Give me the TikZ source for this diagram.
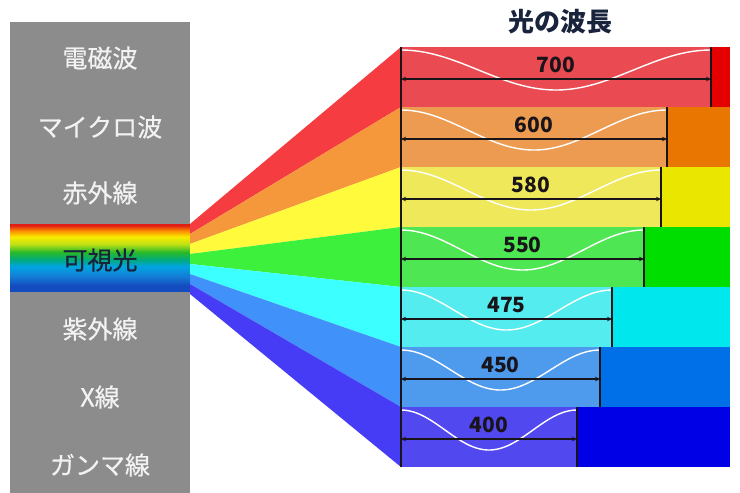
\documentclass[tikz,border=0pt]{standalone}
\usepackage{fontspec}
\setmainfont{Noto Sans CJK JP}
\newfontfamily\jpmid{Noto Sans CJK JP}[FakeBold=0.6]
\usetikzlibrary{arrows.meta}
\definecolor{colgray}{RGB}{140,140,140}
\definecolor{lbltext}{RGB}{242,242,242}
\definecolor{darkink}{RGB}{25,20,25}
\definecolor{navyink}{RGB}{25,35,60}
% fan colours
\definecolor{Fr}{RGB}{245,60,65}
\definecolor{Fo}{RGB}{245,152,60}
\definecolor{Fy}{RGB}{255,250,60}
\definecolor{Fg}{RGB}{60,240,60}
\definecolor{Fc}{RGB}{60,255,255}
\definecolor{Fb}{RGB}{65,145,250}
\definecolor{Fv}{RGB}{70,60,245}
% bar light parts
\definecolor{Lr}{RGB}{234,75,82}
\definecolor{Lo}{RGB}{236,155,80}
\definecolor{Ly}{RGB}{238,232,90}
\definecolor{Lg}{RGB}{78,230,82}
\definecolor{Lc}{RGB}{85,236,240}
\definecolor{Lb}{RGB}{78,155,238}
\definecolor{Lv}{RGB}{82,72,240}
% bar dark parts
\definecolor{Dr}{RGB}{228,0,0}
\definecolor{Do}{RGB}{232,118,0}
\definecolor{Dy}{RGB}{234,230,0}
\definecolor{Dg}{RGB}{0,222,0}
\definecolor{Dc}{RGB}{0,232,238}
\definecolor{Db}{RGB}{0,112,232}
\definecolor{Dv}{RGB}{0,0,230}
% rainbow band stops
\definecolor{rb0}{RGB}{225,30,20}
\definecolor{rb1}{RGB}{250,140,0}
\definecolor{rb2}{RGB}{250,235,0}
\definecolor{rb3}{RGB}{190,225,20}
\definecolor{rb4}{RGB}{40,185,40}
\definecolor{rb5}{RGB}{0,170,130}
\definecolor{rb6}{RGB}{0,165,225}
\definecolor{rb7}{RGB}{20,125,215}
\definecolor{rb8}{RGB}{20,75,190}
\pgfdeclareverticalshading{rainbowband}{100bp}{%
  color(0bp)=(rb8); color(25bp)=(rb8); color(29bp)=(rb8); color(36bp)=(rb7);
  color(43.5bp)=(rb6); color(48bp)=(rb5); color(54bp)=(rb4); color(60bp)=(rb3);
  color(65.5bp)=(rb2); color(70bp)=(rb1); color(74bp)=(rb0); color(100bp)=(rb0)}
\tikzset{
  sidelabel/.style={text=lbltext, inner sep=0pt, font=\jpmid\fontsize{25}{28}\selectfont},
  visiblelabel/.style={text=navyink, inner sep=0pt, font=\jpmid\fontsize{25}{28}\selectfont},
  titlelabel/.style={text=navyink, inner sep=0pt, font=\bfseries\fontsize{26}{30}\selectfont},
  numlabel/.style={text=darkink, inner sep=0pt, font=\bfseries\fontsize{21}{24}\selectfont},
  waveline/.style={white, line width=1.4pt},
  dimline/.style={darkink, line width=1.3pt, {Stealth[length=5pt,width=4.5pt]}-{Stealth[length=5pt,width=4.5pt]}},
  edgeline/.style={darkink, line width=1.2pt}
}
\begin{document}
\begin{tikzpicture}[x=1pt,y=-1pt]
\fill[white] (0,0) rectangle (740,493);
\useasboundingbox (0,0) rectangle (740,493);
% grey column
\fill[colgray] (10,22) rectangle (190,493);
% visible-light band
\shade[shading=rainbowband] (10,224) rectangle (190,291);
% fan, bars, waves, arrows
\foreach \i/\E/\num/\c in {0/711/700/r,1/667/600/o,2/661/580/y,3/644/550/g,4/612/475/c,5/600/450/b,6/577/400/v}{
  \pgfmathsetmacro\T{47+60*\i}
  \fill[F\c] (190,{224+10*\i}) -- (401,\T) -- (401,{\T+60}) -- (190,{234+10*\i}) -- cycle;
  \fill[L\c] (401,\T) rectangle (\E,{\T+60});
  \fill[D\c] (\E,\T) rectangle (730,{\T+60});
  \draw[waveline] plot[domain=0:1,samples=60,smooth] ({401+\x*(\E-401)},{\T+23-20*cos(360*\x)});
  \draw[edgeline] (\E,\T) -- (\E,{\T+60});
  \coordinate (a\i) at (401,{\T+32});
  \coordinate (b\i) at (\E,{\T+32});
  \draw[dimline] (a\i) -- (b\i);
  \node[numlabel] (n\i) at ({(401+\E)/2},{\T+18}) {\num};
}
\draw[edgeline] (401,47) -- (401,467);
% labels
\node[sidelabel] (em) at (100,58) {電磁波};
\node[sidelabel] (mw) at (100,127) {マイクロ波};
\node[sidelabel] (ir) at (100,193) {赤外線};
\node[visiblelabel] (vis) at (100,260) {可視光};
\node[sidelabel] (uv) at (100,329) {紫外線};
\node[sidelabel] (xr) at (100,397) {X線};
\node[sidelabel] (gm) at (100,465) {ガンマ線};
\node[titlelabel] (title) at (560,22) {光の波長};
\end{tikzpicture}
\end{document}
